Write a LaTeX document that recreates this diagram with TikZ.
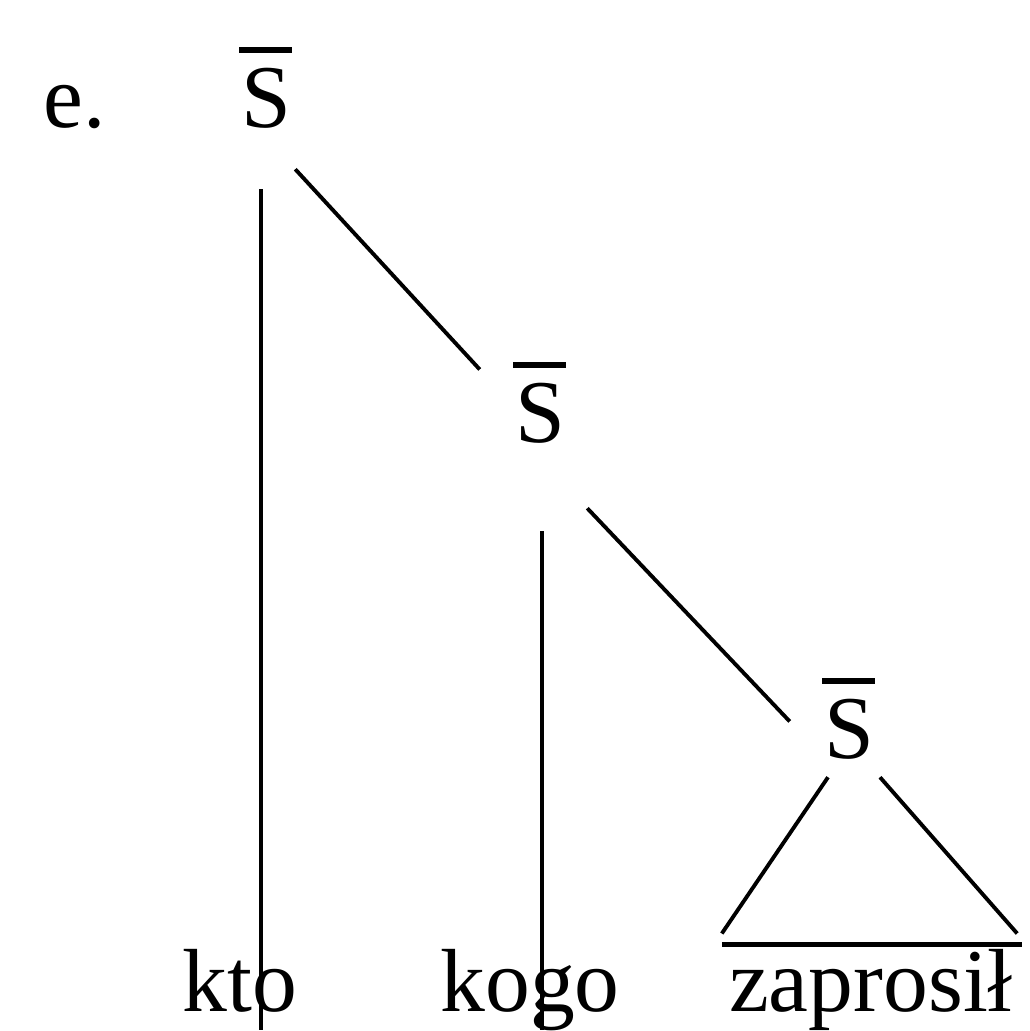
\documentclass[tikz,border=0pt]{standalone}
\usepackage{fontspec}
\setmainfont{Liberation Serif}
\newcommand{\barS}{\makebox[0pt][l]{\hspace{-0.02em}\rule[0.83em]{0.59em}{0.065em}}S}
\tikzset{
  word/.style={anchor=base, inner sep=0pt, font=\fontsize{51}{60}\selectfont},
  branch/.style={line width=2.2pt},
  tobottom/.style={branch, shorten >=-0.38cm}
}
\begin{document}
\begin{tikzpicture}[x=0.02cm, y=-0.02cm]
  \useasboundingbox (0,0) rectangle (1029,1031);
  % Labels
  \node[word, anchor=base west] (ex) at (43,127) {e.};
  \node[word] (S1) at (266,127) {\barS};
  \node[word] (S2) at (540,442) {\barS};
  \node[word] (S3) at (849,758) {\barS};
  \node[word] (kto) at (240,1011) {kto};
  \node[word] (kogo) at (530,1011) {kogo};
  \node[word] (zap) at (871,1011) {zaprosił};
  % Branches
  \draw[tobottom] ([shift={(-5,61)}]S1.south) coordinate (t1) -- (t1 |- kto.base);
  \draw[branch] ([shift={(4,41)}]S1.south east) -- ([shift={(-35,8)}]S2.north west);
  \draw[tobottom] ([shift={(2,88)}]S2.south) coordinate (t2) -- (t2 |- kogo.base);
  \draw[branch] ([shift={(22,65)}]S2.south east) -- ([shift={(-34,44)}]S3.north west);
  % Triangle
  \coordinate (zl) at ([shift={(-7,-4)}]zap.north west);
  \coordinate (zr) at ([shift={(9,-4)}]zap.north east);
  \draw[line width=3pt] (zl) -- (zr);
  \draw[branch] ([shift={(-21,18)}]S3.south) -- ([shift={(0,-11)}]zl);
  \draw[branch] ([shift={(31,18)}]S3.south) -- ([shift={(-5,-11)}]zr);
\end{tikzpicture}
\end{document}
